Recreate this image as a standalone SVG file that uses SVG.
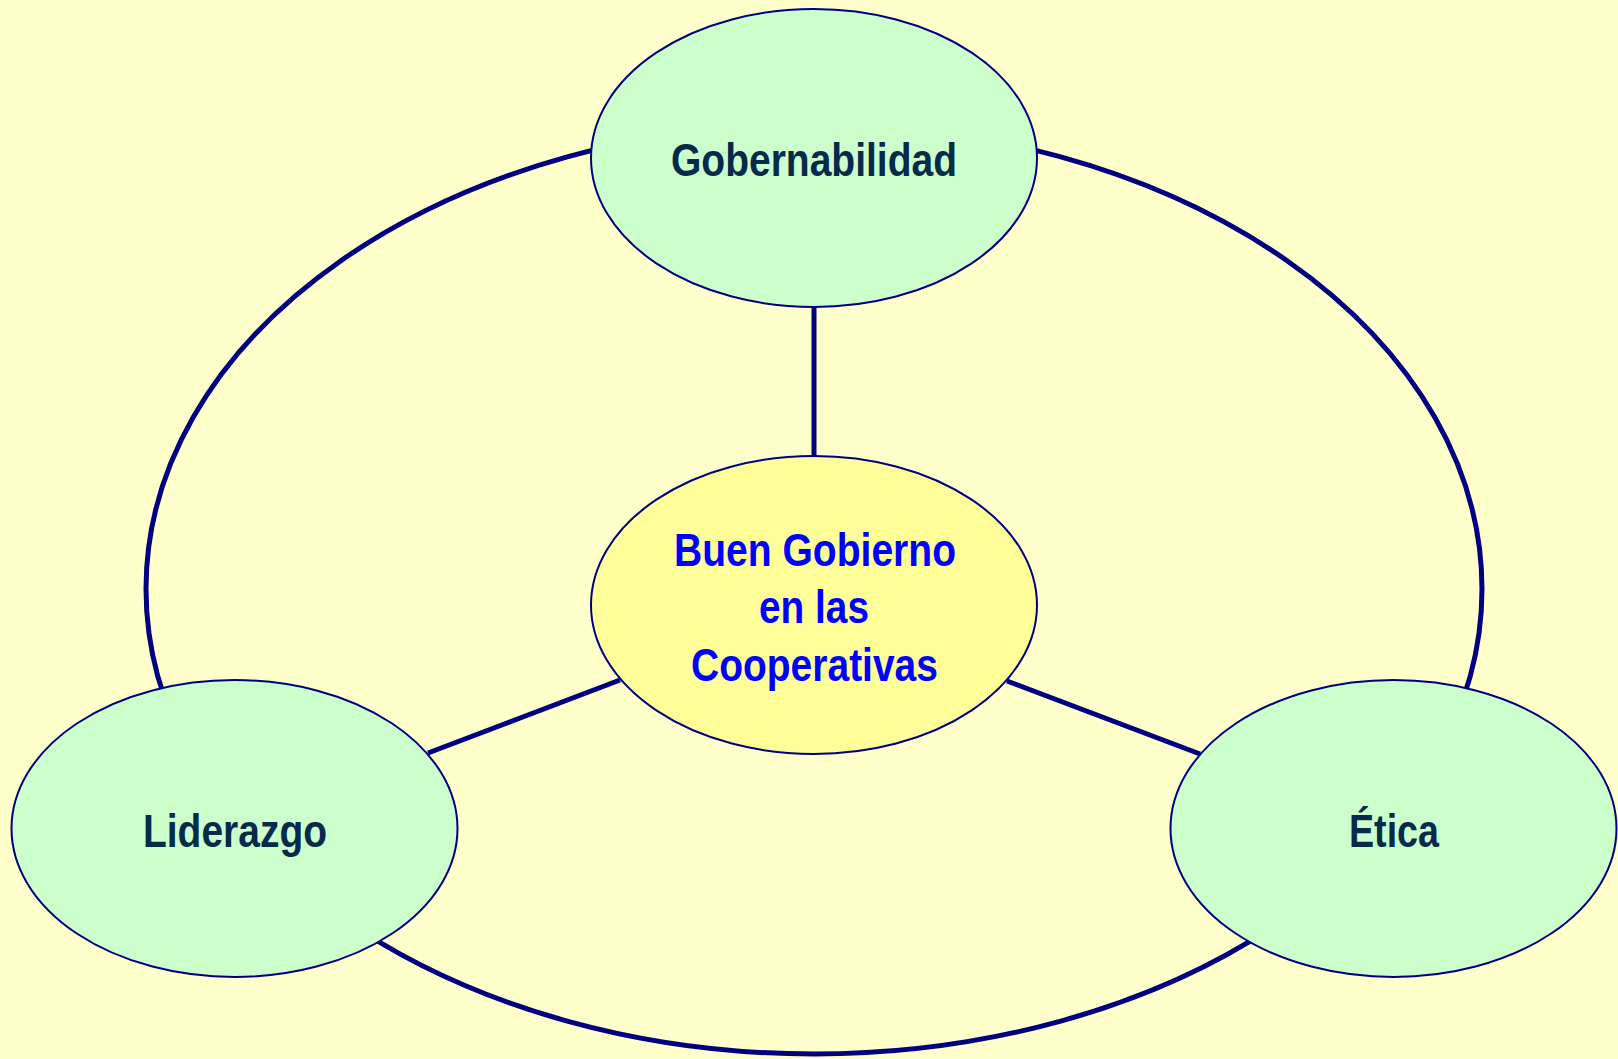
<svg xmlns="http://www.w3.org/2000/svg" width="1618" height="1059" viewBox="0 0 1618 1059">
<style>
.conn{fill:none;stroke:#000080;stroke-width:5}
.node{fill:#CCFFCC;stroke:#000080;stroke-width:2}
.core{fill:#FFFF99;stroke:#000080;stroke-width:2}
.lbl{font-family:"Liberation Sans Narrow","Liberation Sans",Arial,sans-serif;font-size:47px;font-weight:bold;fill:#062a4a;text-anchor:middle}
.clbl{font-family:"Liberation Sans Narrow","Liberation Sans",Arial,sans-serif;font-size:47px;font-weight:bold;fill:#0000FF;text-anchor:middle}
</style>
<rect width="1618" height="1059" fill="#FFFFCC"/>
<g id="connectors">
<ellipse class="conn" cx="814" cy="589" rx="668" ry="465"/>
<line class="conn" x1="814" y1="307" x2="814" y2="456"/>
<line class="conn" x1="620" y1="680" x2="428" y2="753"/>
<line class="conn" x1="1007" y1="681" x2="1200" y2="754"/>
</g>
<g id="gobernabilidad">
<ellipse class="node" cx="814" cy="158" rx="223" ry="149"/>
<text class="lbl" x="814" y="176" textLength="286" lengthAdjust="spacingAndGlyphs">Gobernabilidad</text>
</g>
<g id="buen-gobierno">
<ellipse class="core" cx="814" cy="605" rx="223" ry="149"/>
<text class="clbl" x="815" y="566" textLength="282" lengthAdjust="spacingAndGlyphs">Buen Gobierno</text>
<text class="clbl" x="814" y="623" textLength="110" lengthAdjust="spacingAndGlyphs">en las</text>
<text class="clbl" x="814.5" y="681" textLength="247" lengthAdjust="spacingAndGlyphs">Cooperativas</text>
</g>
<g id="liderazgo">
<ellipse class="node" cx="234.5" cy="828.5" rx="223" ry="148.5"/>
<text class="lbl" x="235" y="847" textLength="184" lengthAdjust="spacingAndGlyphs">Liderazgo</text>
</g>
<g id="etica">
<ellipse class="node" cx="1393.5" cy="828.5" rx="223" ry="148.5"/>
<text class="lbl" x="1394" y="847" textLength="90" lengthAdjust="spacingAndGlyphs">Ética</text>
</g>
</svg>
